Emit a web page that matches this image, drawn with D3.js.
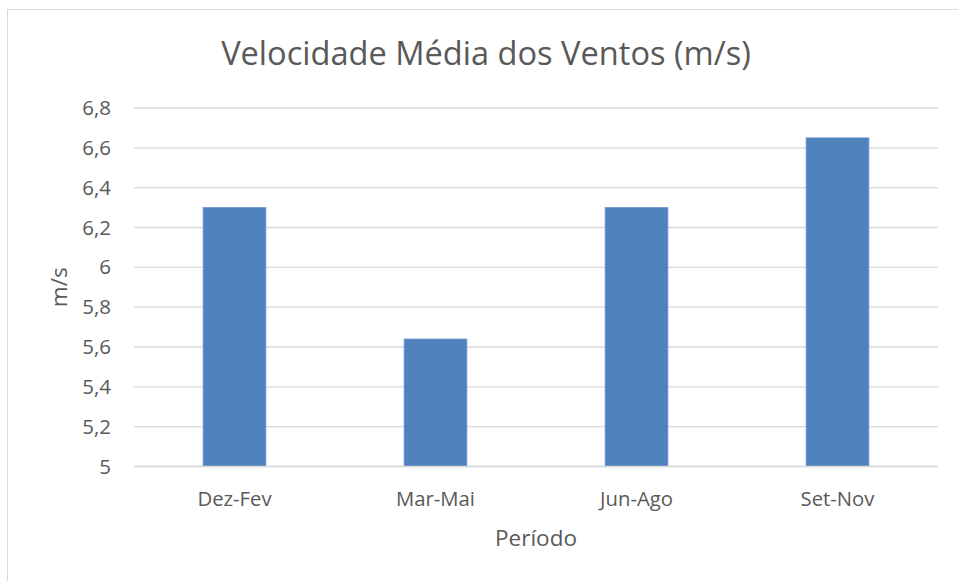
<!DOCTYPE html>
<html>
<head>
<meta charset="utf-8">
<script src="https://cdn.jsdelivr.net/npm/d3@7"></script>
<style>
  html, body { margin: 0; padding: 0; background: #fff; }
  svg { display: block; }
  text { font-family: "Open Sans", "DejaVu Sans", sans-serif; fill: #595959; }
</style>
</head>
<body>
<svg id="chart" width="958" height="581"></svg>
<script>
const categories = ["Dez-Fev", "Mar-Mai", "Jun-Ago", "Set-Nov"];
const values = [6.30, 5.64, 6.30, 6.65];
const yTicks = [5, 5.2, 5.4, 5.6, 5.8, 6, 6.2, 6.4, 6.6, 6.8];
const titleText = "Velocidade Média dos Ventos (m/s)";
const xTitle = "Período";
const yTitle = "m/s";

const svg = d3.select("#chart");
const plotL = 134, plotR = 938, plotT = 108, plotB = 466.5;

// chart border (left & top visible)
svg.append("rect").attr("x", 7.5).attr("y", 9.5).attr("width", 1000).attr("height", 1000)
  .attr("fill", "#fff").attr("stroke", "#d9d9d9").attr("stroke-width", 1);

const x = d3.scaleBand().domain(categories).range([plotL, plotR]).paddingInner(0.6875).paddingOuter(0.34375);
const y = d3.scaleLinear().domain([5, 6.8]).range([plotB, plotT]);

const fmt = d => String(+d.toFixed(1)).replace(".", ",");

// gridlines
svg.append("g").selectAll("line").data(yTicks).join("line")
  .attr("x1", plotL).attr("x2", plotR)
  .attr("y1", d => y(d)).attr("y2", d => y(d))
  .attr("stroke", "#d9d9d9").attr("stroke-width", 1.3);

// y tick labels
const yAxis = d3.axisLeft(y).tickValues(yTicks).tickFormat(fmt).tickSize(0).tickPadding(0);
const gy = svg.append("g").attr("transform", `translate(111,0)`).call(yAxis);
gy.select(".domain").remove();
gy.selectAll("text").attr("font-size", 20.5).attr("fill", "#595959")
  .style("font-family", '"Open Sans", sans-serif');

// bars
svg.append("g").selectAll("rect").data(values).join("rect")
  .attr("x", (d, i) => x(categories[i]))
  .attr("width", x.bandwidth())
  .attr("y", d => y(d))
  .attr("height", d => y(5) - y(d))
  .attr("fill", "#4f81bd")
  .attr("stroke", "#6f9ad0").attr("stroke-width", 0.8);

// x axis
const xAxis = d3.axisBottom(x).tickSize(0).tickPadding(0);
const gx = svg.append("g").attr("transform", `translate(0,${plotB})`).call(xAxis);
gx.select(".domain").remove();
gx.selectAll("text").attr("font-size", 20.3).attr("fill", "#595959")
  .attr("dy", null).attr("y", 39)
  .style("font-family", '"Open Sans", sans-serif');

// baseline
svg.append("line").attr("x1", plotL).attr("x2", plotR).attr("y1", plotB).attr("y2", plotB)
  .attr("stroke", "#d9d9d9").attr("stroke-width", 1.3);

// title
svg.append("text").attr("x", 486).attr("y", 65).attr("text-anchor", "middle")
  .attr("font-size", 32.6).text(titleText);

// axis titles
svg.append("text").attr("x", (plotL + plotR) / 2).attr("y", 546).attr("text-anchor", "middle")
  .attr("font-size", 22.5).text(xTitle);
svg.append("text").attr("transform", `translate(67,${(plotT + plotB) / 2}) rotate(-90)`)
  .attr("text-anchor", "middle").attr("font-size", 22.5).text(yTitle);
</script>
</body>
</html>
